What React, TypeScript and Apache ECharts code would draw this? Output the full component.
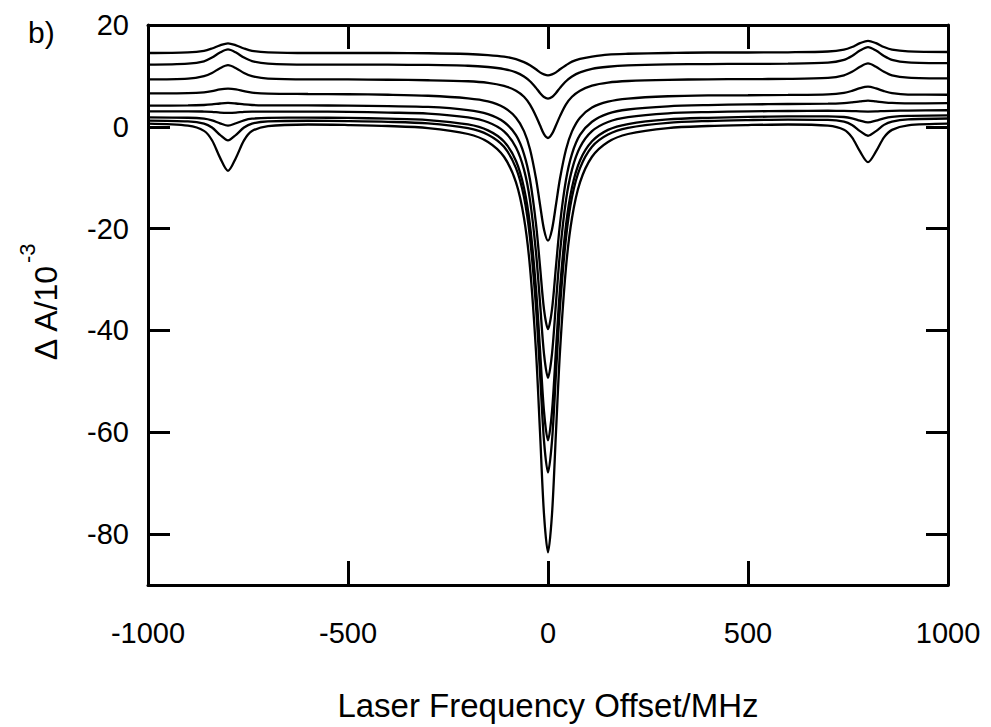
import React, { useEffect, useRef } from "react";
import * as echarts from "echarts";

// Laser frequency offset (MHz) at which every trace is sampled
const offsets = [
  -1000, -900, -860, -840, -820, -800, -780, -760, -740, -700,
  -600, -500, -400, -300, -200, -150, -110, -80, -60, -45,
  -30, -20, -10, 0, 10, 20, 30, 45, 60, 80,
  110, 150, 200, 300, 400, 500, 600, 700, 740, 760,
  780, 800, 820, 840, 860, 900, 1000,
];

// ΔA (units of 1e-3) for each trace, top to bottom
const trace1 = [
  14.5, 14.64, 14.93, 15.39, 16.01, 16.4, 16.01, 15.39, 14.93, 14.64,
  14.5, 14.5, 14.5, 14.45, 14.3, 14.1, 13.8, 13.3, 12.7, 12.1,
  11.3, 10.7, 10.3, 10.1, 10.3, 10.7, 11.3, 12.1, 12.8, 13.35,
  13.8, 14.2, 14.35, 14.5, 14.6, 14.6, 14.64, 14.79, 15.15, 15.67,
  16.43, 16.9, 16.43, 15.67, 15.15, 14.82, 14.7,
];
const trace2 = [
  12.2, 12.41, 12.86, 13.6, 14.58, 15.2, 14.58, 13.6, 12.91, 12.41,
  12.2, 12.2, 12.2, 12.15, 12.0, 11.75, 11.35, 10.7, 9.9, 8.95,
  7.65, 6.65, 5.85, 5.55, 5.85, 6.65, 7.65, 8.95, 9.9, 10.7,
  11.4, 11.8, 12.05, 12.25, 12.33, 12.37, 12.4, 12.61, 13.17, 13.92,
  14.99, 15.65, 14.99, 13.92, 13.17, 12.66, 12.5,
];
const trace3 = [
  9.3, 9.46, 9.95, 10.58, 11.52, 12.1, 11.52, 10.58, 9.95, 9.46,
  9.3, 9.3, 9.25, 9.15, 8.95, 8.65, 8.05, 7.1, 5.9, 4.35,
  2.1, 0.3, -1.45, -2.2, -1.4, 0.3, 2.1, 4.4, 5.9, 7.1,
  8.1, 8.7, 9.0, 9.23, 9.33, 9.38, 9.41, 9.61, 10.11, 10.8,
  11.78, 12.45, 11.78, 10.8, 10.11, 9.66, 9.5,
];
const trace4 = [
  6.55, 6.62, 6.77, 7.0, 7.36, 7.5, 7.36, 7.0, 6.72, 6.52,
  6.45, 6.4, 6.3, 6.1, 5.6, 5.0, 3.8, 1.8, -0.85, -4.4,
  -10.15, -15.25, -20.15, -22.35, -20.15, -15.25, -10.15, -4.45, -0.9, 1.8,
  3.8, 4.95, 5.55, 6.0, 6.17, 6.2, 6.26, 6.38, 6.66, 7.06,
  7.6, 7.9, 7.55, 7.01, 6.61, 6.33, 6.3,
];
const trace5 = [
  4.15, 4.2, 4.29, 4.4, 4.58, 4.7, 4.58, 4.4, 4.29, 4.2,
  4.2, 4.15, 4.05, 3.9, 3.3, 2.5, 0.95, -1.65, -5.35, -10.4,
  -19.05, -27.35, -35.85, -39.75, -35.85, -27.35, -19.05, -10.4, -5.3, -1.6,
  1.0, 2.6, 3.4, 4.02, 4.27, 4.4, 4.48, 4.55, 4.67, 4.81,
  4.99, 5.15, 4.99, 4.81, 4.69, 4.6, 4.65,
];
const trace6 = [
  3.05, 3.05, 3.0, 2.95, 2.8, 2.75, 2.8, 2.95, 3.0, 3.0,
  3.0, 2.95, 2.8, 2.6, 1.85, 0.9, -0.9, -4.05, -8.4, -14.4,
  -24.7, -34.5, -44.6, -49.3, -44.6, -34.5, -24.7, -14.4, -8.4, -4.0,
  -0.85, 0.95, 1.9, 2.64, 2.9, 3.03, 3.11, 3.16, 3.13, 3.1,
  3.03, 3.0, 3.03, 3.1, 3.15, 3.2, 3.25,
];
const trace7 = [
  1.85, 1.78, 1.6, 1.27, 0.69, 0.24, 0.7, 1.28, 1.6, 1.77,
  1.8, 1.74, 1.6, 1.33, 0.46, -0.7, -2.9, -6.7, -12.0, -19.3,
  -31.8, -43.7, -55.9, -61.6, -55.9, -43.7, -31.8, -19.3, -11.9, -6.6,
  -2.85, -0.6, 0.54, 1.45, 1.77, 1.94, 2.04, 2.06, 1.93, 1.68,
  1.22, 0.86, 1.22, 1.68, 1.95, 2.15, 2.24,
];
const trace8 = [
  1.23, 1.07, 0.64, -0.13, -1.58, -2.67, -1.57, -0.14, 0.64, 1.06,
  1.19, 1.12, 0.98, 0.66, -0.28, -1.55, -3.93, -8.1, -13.8, -21.8,
  -35.4, -48.4, -61.7, -67.9, -61.7, -48.4, -35.4, -21.8, -13.8, -8.1,
  -3.9, -1.5, -0.2, 0.78, 1.14, 1.32, 1.43, 1.36, 1.01, 0.37,
  -0.84, -1.75, -0.84, 0.38, 1.03, 1.46, 1.63,
];
const trace9 = [
  0.62, 0.22, -0.8, -2.64, -6.05, -8.64, -6.06, -2.67, -0.84, 0.15,
  0.46, 0.35, 0.16, -0.24, -1.41, -2.97, -5.88, -10.9, -17.9, -27.6,
  -44.1, -59.9, -76.1, -83.6, -76.1, -59.9, -44.1, -27.6, -17.9, -10.9,
  -5.88, -2.97, -1.41, -0.24, 0.16, 0.35, 0.46, 0.22, -0.59, -2.08,
  -4.84, -6.94, -4.84, -2.08, -0.6, 0.29, 0.62,
];

const traces = [trace1, trace2, trace3, trace4, trace5, trace6, trace7, trace8, trace9];

const xTicks = [-1000, -500, 0, 500, 1000];
const yTicks = [-80, -60, -40, -20, 0, 20];

const FONT = "'Liberation Sans', Arial, Helvetica, sans-serif";

export default function App() {
  const ref = useRef<HTMLDivElement>(null);

  useEffect(() => {
    if (!ref.current) return;
    const chart = echarts.init(ref.current, undefined, { renderer: "svg" });

    const frameLine = { show: true, onZero: false, lineStyle: { color: "#000", width: 3 } };
    const tickStyle = { color: "#000", width: 3 };

    const xBase = {
      type: "value" as const,
      min: xTicks[0],
      max: xTicks[xTicks.length - 1],
      interval: 500,
      axisLine: frameLine,
      splitLine: { show: false },
    };
    const yBase = {
      type: "value" as const,
      min: -90,
      max: 20,
      interval: 10,
      axisLine: frameLine,
      splitLine: { show: false },
    };

    chart.setOption({
      animation: false,
      backgroundColor: "#fff",
      grid: { left: 148, top: 25, width: 800, height: 560, containLabel: false },
      xAxis: [
        {
          ...xBase,
          position: "bottom",
          axisTick: { show: true, inside: true, length: 24, lineStyle: tickStyle },
          axisLabel: {
            show: true,
            color: "#000",
            fontSize: 29,
            fontFamily: FONT,
            margin: 33,
            showMinLabel: true,
            showMaxLabel: true,
            formatter: (v: number) => String(v),
          },
          name: "Laser Frequency Offset/MHz",
          nameLocation: "middle",
          nameGap: 104,
          nameTextStyle: { color: "#000", fontSize: 33, fontFamily: FONT },
        },
        {
          ...xBase,
          position: "top",
          axisTick: { show: true, inside: true, length: 24, lineStyle: tickStyle },
          axisLabel: { show: false },
        },
      ],
      yAxis: [
        {
          ...yBase,
          position: "left",
          axisTick: { show: true, inside: true, length: 22, lineStyle: tickStyle, customValues: yTicks },
          axisLabel: {
            show: true,
            color: "#000",
            fontSize: 29,
            fontFamily: FONT,
            margin: 19,
            customValues: yTicks,
            formatter: (v: number) => String(v),
          },
        },
        {
          ...yBase,
          position: "right",
          axisTick: { show: true, inside: true, length: 22, lineStyle: tickStyle, customValues: yTicks },
          axisLabel: { show: false },
        },
      ],
      graphic: [
        {
          type: "text",
          x: 28,
          y: 32,
          style: { text: "b)", fill: "#000", fontSize: 30, fontFamily: FONT, align: "left", verticalAlign: "middle" },
        },
        {
          type: "group",
          x: 46,
          y: 313,
          rotation: Math.PI / 2,
          children: [
            {
              type: "text",
              x: 0,
              y: 0,
              style: { text: "Δ A/10", fill: "#000", fontSize: 32, fontFamily: FONT, align: "center", verticalAlign: "middle" },
            },
            {
              type: "text",
              x: 50,
              y: -19,
              style: { text: "-3", fill: "#000", fontSize: 22, fontFamily: FONT, align: "left", verticalAlign: "middle" },
            },
          ],
        },
      ],
      series: traces.map((vals, i) => ({
        name: `trace ${i + 1}`,
        type: "line",
        xAxisIndex: 0,
        yAxisIndex: 0,
        data: offsets.map((f, k) => [f, vals[k]]),
        showSymbol: false,
        smooth: 0.3,
        lineStyle: { color: "#000", width: 2.3 },
        emphasis: { disabled: true },
        silent: true,
      })),
    });

    return () => chart.dispose();
  }, []);

  return (
    <div
      ref={ref}
      style={{ position: "fixed", left: 0, top: 0, width: 991, height: 727, background: "#fff" }}
    />
  );
}
